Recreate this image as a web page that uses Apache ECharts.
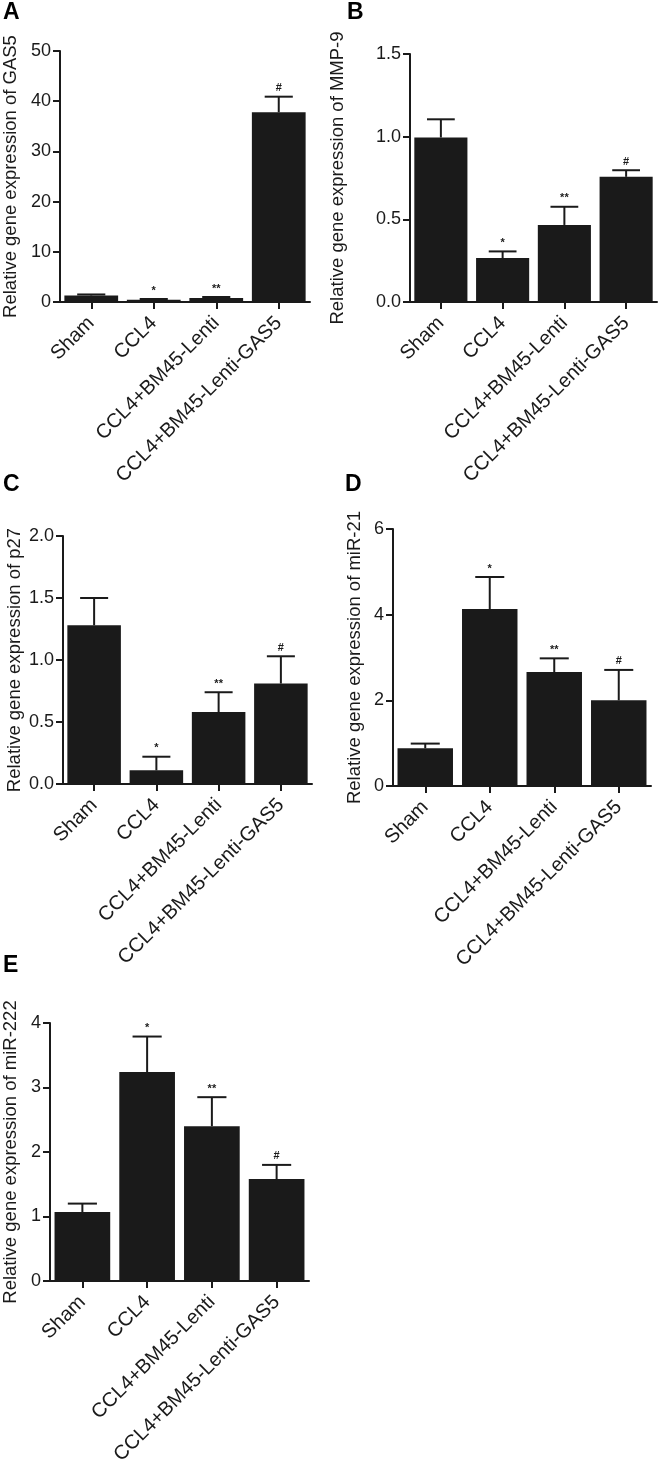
<!DOCTYPE html>
<html>
<head>
<meta charset="utf-8">
<script src="https://cdn.jsdelivr.net/npm/echarts@6/dist/echarts.min.js"></script>
<style>
html,body{margin:0;padding:0;background:#fff;}
#chart{width:660px;height:1471px;}
</style>
</head>
<body>
<div id="chart"></div>
<script>
// ---- data ----
const categories = ['Sham', 'CCL4', 'CCL4+BM45-Lenti', 'CCL4+BM45-Lenti-GAS5'];
const marks = ['', '*', '**', '#'];
const panelLetters = ['A', 'B', 'C', 'D', 'E'];
const yTitles = [
  'Relative gene expression of GAS5',
  'Relative gene expression of MMP-9',
  'Relative gene expression of p27',
  'Relative gene expression of miR-21',
  'Relative gene expression of miR-222'
];
const gas5Mean = [1.3, 0.45, 0.8, 37.8];
const gas5Err = [0.2, 0.15, 0.2, 3.1];
const mmp9Mean = [0.995, 0.266, 0.466, 0.757];
const mmp9Err = [0.11, 0.04, 0.11, 0.04];
const p27Mean = [1.28, 0.11, 0.58, 0.81];
const p27Err = [0.22, 0.11, 0.16, 0.22];
const mir21Mean = [0.88, 4.13, 2.66, 2.0];
const mir21Err = [0.11, 0.75, 0.32, 0.71];
const mir222Mean = [1.07, 3.24, 2.40, 1.58];
const mir222Err = [0.13, 0.55, 0.45, 0.22];
const yMax = [50, 1.5, 2.0, 6, 4];
const yInterval = [10, 0.5, 0.5, 2, 1];
const yDecimals = [0, 1, 1, 0, 0];

const means = [gas5Mean, mmp9Mean, p27Mean, mir21Mean, mir222Mean];
const errs = [gas5Err, mmp9Err, p27Err, mir21Err, mir222Err];

// ---- layout ----
const layout = [
  {left: 59, top: 51, width: 251, height: 251, gap: 40, lx: 3, ly: 1},
  {left: 410, top: 54, width: 247, height: 248, gap: 63, lx: 347, ly: 1},
  {left: 63, top: 536, width: 249, height: 248, gap: 39, lx: 3, ly: 473},
  {left: 393, top: 529, width: 258, height: 257, gap: 29, lx: 345, ly: 473},
  {left: 49, top: 1023, width: 260, height: 258, gap: 30, lx: 3, ly: 954}
];

const INK = '#1a1a1a';
const FONT = '"Liberation Sans", Arial, Helvetica, sans-serif';

const grids = [], xAxes = [], yAxes = [], series = [], graphics = [];

layout.forEach((L, p) => {
  grids.push({left: L.left, top: L.top, width: L.width, height: L.height, containLabel: false});
  xAxes.push({
    type: 'category', gridIndex: p, data: categories, boundaryGap: true,
    axisLine: {show: true, lineStyle: {color: INK, width: 2}},
    axisTick: {show: true, alignWithLabel: true, length: 7, lineStyle: {color: INK, width: 2}},
    axisLabel: {interval: 0, rotate: 45, fontSize: 20, color: INK, fontFamily: FONT, margin: 18},
    splitLine: {show: false}
  });
  const dec = yDecimals[p];
  yAxes.push({
    type: 'value', gridIndex: p, min: 0, max: yMax[p], interval: yInterval[p],
    name: yTitles[p], nameLocation: 'middle', nameGap: L.gap,
    nameTextStyle: {fontSize: 18.5, color: INK, fontFamily: FONT},
    axisLine: {show: true, lineStyle: {color: INK, width: 2}},
    axisTick: {show: true, length: 7, lineStyle: {color: INK, width: 2}},
    axisLabel: {fontSize: 18, color: INK, fontFamily: FONT, margin: 9,
      formatter: v => Number(v).toFixed(dec)},
    splitLine: {show: false}
  });
  series.push({
    type: 'bar', xAxisIndex: p, yAxisIndex: p, data: means[p], barWidth: '86%',
    itemStyle: {color: INK}, animation: false
  });
  series.push({
    type: 'custom', xAxisIndex: p, yAxisIndex: p, animation: false, z: 3,
    data: means[p].map((m, i) => [i, m, errs[p][i]]),
    renderItem: function (params, api) {
      const i = api.value(0), v = api.value(1), e = api.value(2);
      const base = api.coord([i, v]);
      const top = api.coord([i, v + e]);
      const bw = api.size([1, 0])[0];
      const cw = bw * 0.45;
      const st = {stroke: INK, lineWidth: 2};
      const children = [
        {type: 'line', shape: {x1: top[0], y1: base[1], x2: top[0], y2: top[1]}, style: st},
        {type: 'line', shape: {x1: top[0] - cw / 2, y1: top[1], x2: top[0] + cw / 2, y2: top[1]}, style: st}
      ];
      const mk = marks[params.dataIndex];
      if (mk) {
        children.push({type: 'text', x: top[0], y: top[1] - 3,
          style: {text: mk, fill: INK, font: 'bold 11px ' + FONT, align: 'center', verticalAlign: 'bottom'}});
      }
      return {type: 'group', children: children};
    }
  });
  graphics.push({type: 'text', left: L.lx, top: L.ly,
    style: {text: panelLetters[p], fill: '#000', font: 'bold 23px ' + FONT}});
});

const chart = echarts.init(document.getElementById('chart'), null, {renderer: 'canvas'});
chart.setOption({
  animation: false,
  backgroundColor: '#fff',
  grid: grids, xAxis: xAxes, yAxis: yAxes, series: series, graphic: graphics
});
</script>
</body>
</html>
